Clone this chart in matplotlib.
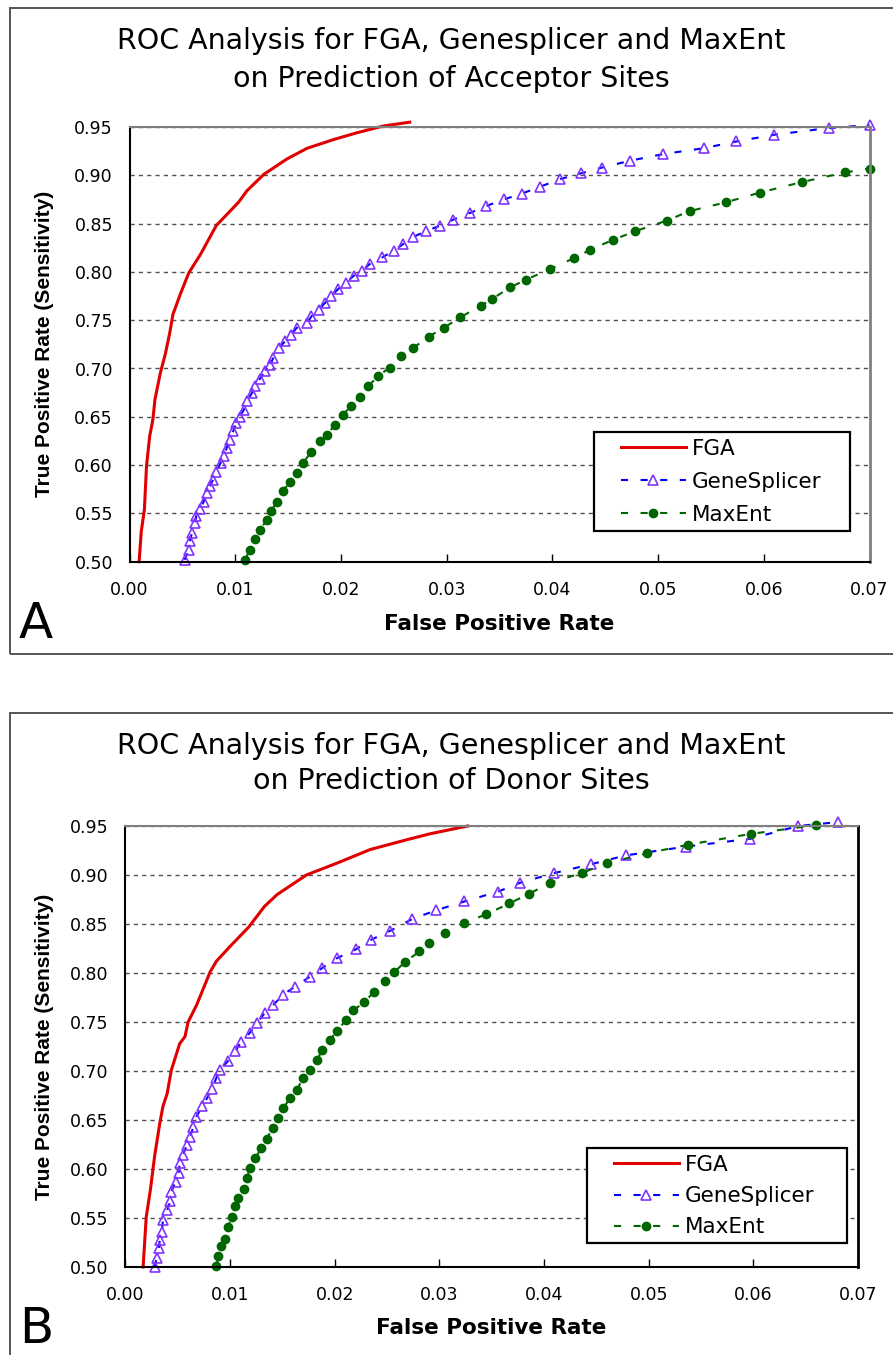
import matplotlib.pyplot as plt
from matplotlib.patches import Rectangle

plt.rcParams['font.family'] = ['DejaVu Sans']

# ---- panel A : acceptor sites ----
fga_a_x = [0.0009, 0.0011, 0.0014, 0.0016, 0.0019, 0.0022, 0.0024, 0.0029, 0.0034, 0.0038,
           0.0041, 0.0048, 0.0056, 0.0067, 0.0082, 0.0089, 0.0103, 0.0111, 0.0127, 0.0149,
           0.0168, 0.0193, 0.0215, 0.0240, 0.0265]
fga_a_y = [0.500, 0.531, 0.554, 0.599, 0.630, 0.647, 0.668, 0.695, 0.716, 0.737,
           0.756, 0.777, 0.799, 0.818, 0.848, 0.856, 0.872, 0.884, 0.901, 0.917,
           0.928, 0.937, 0.944, 0.951, 0.955]

gs_a_x = [0.0052, 0.0056, 0.0057, 0.0059, 0.0062, 0.0063, 0.0067, 0.0070, 0.0073, 0.0076,
          0.0079, 0.0082, 0.0086, 0.0089, 0.0092, 0.0095, 0.0098, 0.0101, 0.0104, 0.0108,
          0.0111, 0.0116, 0.0119, 0.0123, 0.0128, 0.0133, 0.0136, 0.0141, 0.0147, 0.0153,
          0.0158, 0.0168, 0.0172, 0.0179, 0.0185, 0.0191, 0.0197, 0.0205, 0.0212, 0.0220,
          0.0227, 0.0239, 0.0250, 0.0259, 0.0268, 0.0280, 0.0294, 0.0306, 0.0322, 0.0337,
          0.0354, 0.0371, 0.0388, 0.0407, 0.0427, 0.0447, 0.0473, 0.0505, 0.0543, 0.0574,
          0.0610, 0.0662, 0.0700]
gs_a_y = [0.502, 0.512, 0.521, 0.530, 0.540, 0.547, 0.555, 0.562, 0.571, 0.578,
          0.585, 0.593, 0.602, 0.609, 0.618, 0.626, 0.635, 0.644, 0.650, 0.657,
          0.666, 0.675, 0.682, 0.689, 0.697, 0.704, 0.711, 0.721, 0.728, 0.735,
          0.742, 0.747, 0.754, 0.761, 0.768, 0.775, 0.782, 0.789, 0.796, 0.801,
          0.808, 0.815, 0.822, 0.829, 0.836, 0.842, 0.848, 0.854, 0.861, 0.868,
          0.875, 0.881, 0.888, 0.896, 0.902, 0.908, 0.915, 0.922, 0.928, 0.935,
          0.942, 0.949, 0.952]

me_a_x = [0.0109, 0.0114, 0.0119, 0.0123, 0.0130, 0.0134, 0.0139, 0.0145, 0.0152, 0.0158,
          0.0164, 0.0172, 0.0180, 0.0187, 0.0194, 0.0202, 0.0209, 0.0218, 0.0226, 0.0235,
          0.0246, 0.0257, 0.0268, 0.0283, 0.0297, 0.0313, 0.0332, 0.0343, 0.0360, 0.0375,
          0.0398, 0.0420, 0.0436, 0.0457, 0.0478, 0.0508, 0.0530, 0.0564, 0.0596, 0.0636,
          0.0677, 0.0700]
me_a_y = [0.502, 0.512, 0.523, 0.533, 0.543, 0.552, 0.562, 0.573, 0.583, 0.592,
          0.602, 0.614, 0.625, 0.631, 0.642, 0.652, 0.661, 0.671, 0.682, 0.692,
          0.701, 0.713, 0.721, 0.733, 0.742, 0.753, 0.765, 0.772, 0.784, 0.792,
          0.803, 0.814, 0.823, 0.833, 0.842, 0.853, 0.863, 0.872, 0.882, 0.893,
          0.903, 0.907]

# ---- panel B : donor sites ----
fga_b_x = [0.0017, 0.0020, 0.0024, 0.0028, 0.0033, 0.0036, 0.0040, 0.0044, 0.0052, 0.0057,
           0.0060, 0.0068, 0.0081, 0.0087, 0.0100, 0.0118, 0.0133, 0.0145, 0.0173, 0.0202,
           0.0234, 0.0269, 0.0291, 0.0327]
fga_b_y = [0.500, 0.551, 0.579, 0.613, 0.647, 0.664, 0.677, 0.701, 0.728, 0.735,
           0.750, 0.767, 0.801, 0.812, 0.827, 0.847, 0.868, 0.880, 0.900, 0.912,
           0.926, 0.936, 0.942, 0.950]

gs_b_x = [0.0028, 0.0030, 0.0032, 0.0033, 0.0035, 0.0036, 0.0040, 0.0043, 0.0044, 0.0048,
          0.0051, 0.0052, 0.0055, 0.0059, 0.0062, 0.0065, 0.0068, 0.0073, 0.0078, 0.0083,
          0.0087, 0.0090, 0.0098, 0.0105, 0.0111, 0.0119, 0.0126, 0.0133, 0.0141, 0.0151,
          0.0162, 0.0176, 0.0188, 0.0202, 0.0220, 0.0235, 0.0253, 0.0274, 0.0297, 0.0324,
          0.0356, 0.0377, 0.0410, 0.0445, 0.0478, 0.0536, 0.0597, 0.0643, 0.0681]
gs_b_y = [0.500, 0.509, 0.519, 0.528, 0.536, 0.548, 0.558, 0.567, 0.577, 0.587,
          0.596, 0.606, 0.614, 0.625, 0.633, 0.643, 0.653, 0.664, 0.672, 0.682,
          0.693, 0.701, 0.710, 0.720, 0.730, 0.739, 0.749, 0.759, 0.767, 0.778,
          0.786, 0.796, 0.805, 0.815, 0.824, 0.834, 0.843, 0.855, 0.864, 0.873,
          0.883, 0.892, 0.902, 0.911, 0.920, 0.929, 0.937, 0.950, 0.954]

me_b_x = [0.0087, 0.0089, 0.0091, 0.0095, 0.0098, 0.0102, 0.0105, 0.0108, 0.0113, 0.0116,
          0.0119, 0.0124, 0.0130, 0.0135, 0.0141, 0.0146, 0.0151, 0.0157, 0.0164, 0.0170,
          0.0176, 0.0183, 0.0188, 0.0196, 0.0202, 0.0211, 0.0218, 0.0228, 0.0238, 0.0248,
          0.0257, 0.0267, 0.0281, 0.0290, 0.0305, 0.0324, 0.0345, 0.0367, 0.0386, 0.0406,
          0.0436, 0.0460, 0.0498, 0.0538, 0.0598, 0.0660]
me_b_y = [0.501, 0.511, 0.521, 0.529, 0.541, 0.551, 0.562, 0.570, 0.580, 0.591,
          0.601, 0.611, 0.621, 0.631, 0.642, 0.652, 0.662, 0.672, 0.681, 0.693,
          0.701, 0.711, 0.721, 0.732, 0.741, 0.752, 0.762, 0.770, 0.781, 0.792,
          0.801, 0.811, 0.822, 0.831, 0.841, 0.851, 0.860, 0.871, 0.881, 0.892,
          0.902, 0.912, 0.922, 0.931, 0.942, 0.951]

series_names = ['FGA', 'GeneSplicer', 'MaxEnt']
x_ticks = [0.00, 0.01, 0.02, 0.03, 0.04, 0.05, 0.06, 0.07]
y_ticks = [0.50, 0.55, 0.60, 0.65, 0.70, 0.75, 0.80, 0.85, 0.90, 0.95]
title_line1 = 'ROC Analysis for FGA, Genesplicer and MaxEnt'
title_a = 'on Prediction of Acceptor Sites'
title_b = 'on Prediction of Donor Sites'

W, H = 893, 1355
fig = plt.figure(figsize=(W / 100, H / 100), dpi=100)


def fx(px):
    return px / W


def fy(py):
    return 1 - py / H


def draw_panel(box_top, box_bottom, ax_rect, line2, letter, letter_y, data, legend_box,
               title_y, xlabel_y, right_spine, leg_space):
    # outer chart frame
    fig.patches.append(Rectangle((fx(10), fy(box_bottom)), fx(W + 20) - fx(10),
                                 fy(box_top) - fy(box_bottom), transform=fig.transFigure,
                                 fill=False, edgecolor='#555555', lw=1.4))
    left, top, right, bottom = ax_rect
    ax = fig.add_axes([fx(left), fy(bottom), fx(right) - fx(left), fy(top) - fy(bottom)])

    fga_x, fga_y, gs_x, gs_y, me_x, me_y = data
    dash = (0, (3.4, 6.0))
    l1, = ax.plot(fga_x, fga_y, color='#E00000', lw=2.2, clip_on=False)
    l2, = ax.plot(gs_x, gs_y, color='#0000FF', lw=1.5, linestyle=dash, marker='^',
                  ms=6.5, mfc='none', mec='#8033FF', mew=1.2, clip_on=False)
    l3, = ax.plot(me_x, me_y, color='#006600', lw=1.5, linestyle=dash, marker='o',
                  ms=6, mfc='#006600', mec='#006600', clip_on=False)

    ax.set_xlim(0, 0.07)
    ax.set_ylim(0.5, 0.95)
    ax.set_xticks(x_ticks)
    ax.set_yticks(y_ticks)
    ax.set_xticklabels(['%.2f' % v for v in x_ticks])
    ax.set_yticklabels(['%.2f' % v for v in y_ticks])
    ax.tick_params(axis='x', direction='in', length=6, width=1, pad=14, labelsize=12.5)
    ax.tick_params(axis='y', length=0, pad=12, labelsize=12.5)
    ax.yaxis.grid(True, linestyle=(0, (3, 3)), color='#505050', lw=1)
    ax.set_axisbelow(True)
    for s in ['left', 'bottom']:
        ax.spines[s].set_linewidth(1.5)
        ax.spines[s].set_color('black')
    ax.spines['top'].set_color('#808080')
    ax.spines['top'].set_linewidth(1.5)
    ax.spines['right'].set_color(right_spine)
    ax.spines['right'].set_linewidth(2)

    # legend with its own frame box
    bx0, by0, bx1, by1 = legend_box
    ax.add_patch(Rectangle((fx(bx0), fy(by1)), fx(bx1) - fx(bx0), fy(by0) - fy(by1),
                           transform=fig.transFigure, facecolor='white', edgecolor='black',
                           lw=1.6, zorder=4, clip_on=False))
    leg = ax.legend([l1, l2, l3], series_names, loc='upper left',
                    bbox_to_anchor=(fx(bx0 + 27), fy(by0 + 7)), bbox_transform=fig.transFigure,
                    frameon=False, borderpad=0, borderaxespad=0, handlelength=3.0,
                    handletextpad=0.3, labelspacing=leg_space, fontsize=15.5, numpoints=1)
    leg.set_zorder(5)

    fig.text(fx(451), fy(title_y[0]), title_line1, ha='center', va='baseline', fontsize=20.5)
    fig.text(fx(451), fy(title_y[1]), line2, ha='center', va='baseline', fontsize=20.5)
    fig.text(fx(45), fy((top + bottom) / 2), 'True Positive Rate (Sensitivity)', rotation=90,
             ha='center', va='center', fontsize=15, fontweight='bold', family='Liberation Sans')
    fig.text(fx((left + right) / 2), fy(xlabel_y), 'False Positive Rate', ha='center',
             va='center', fontsize=15.5, fontweight='bold')
    fig.text(fx(19), fy(letter_y), letter, ha='left', va='baseline', fontsize=36)
    return ax


draw_panel(8, 654, (129.6, 127, 869.5, 561.7), title_a, 'A', 638,
           (fga_a_x, fga_a_y, gs_a_x, gs_a_y, me_a_x, me_a_y),
           (594, 432, 850, 531), (49, 87), 624, '#808080', 0.6)
draw_panel(713, 1400, (125.3, 826, 858, 1267), title_b, 'B', 1343,
           (fga_b_x, fga_b_y, gs_b_x, gs_b_y, me_b_x, me_b_y),
           (587, 1148, 847, 1243), (754, 789), 1328, 'black', 0.52)

fig.savefig('out.png', dpi=100)
